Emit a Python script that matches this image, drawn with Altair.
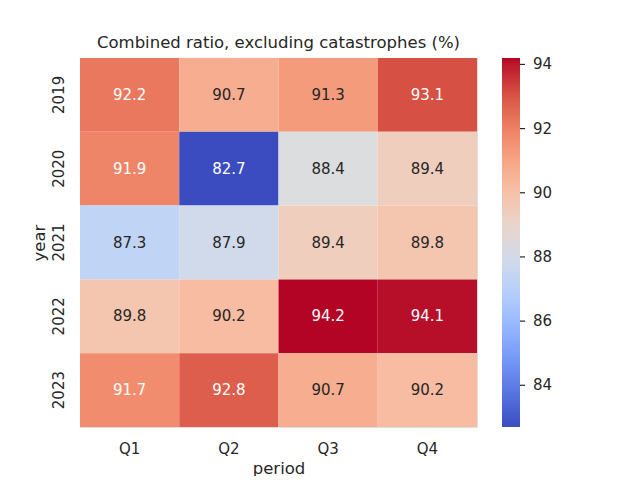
import altair as alt
import pandas as pd

years = ["2019", "2020", "2021", "2022", "2023"]
periods = ["Q1", "Q2", "Q3", "Q4"]
values = [
    [92.2, 90.7, 91.3, 93.1],
    [91.9, 82.7, 88.4, 89.4],
    [87.3, 87.9, 89.4, 89.8],
    [89.8, 90.2, 94.2, 94.1],
    [91.7, 92.8, 90.7, 90.2],
]
cbar_ticks = [84, 86, 88, 90, 92, 94]

# matplotlib coolwarm colormap samples (33 evenly spaced stops)
coolwarm = [
    (59, 76, 192), (68, 90, 204), (77, 104, 215), (87, 117, 225), (98, 130, 234),
    (108, 142, 241), (119, 154, 247), (130, 165, 251), (141, 176, 254), (152, 185, 255),
    (163, 194, 255), (174, 201, 253), (184, 208, 249), (194, 213, 244), (204, 217, 238),
    (213, 219, 230), (221, 221, 221), (229, 216, 209), (236, 211, 197), (241, 204, 184),
    (245, 196, 172), (247, 187, 159), (247, 177, 147), (247, 166, 134), (244, 154, 123),
    (241, 141, 111), (236, 127, 99), (229, 112, 88), (222, 96, 77), (213, 80, 66),
    (203, 62, 56), (192, 40, 47), (180, 4, 38),
]
vmin, vmax = 82.7, 94.2
n = len(coolwarm)
dom = [vmin + i * (vmax - vmin) / (n - 1) for i in range(n)]
rng = ["#%02x%02x%02x" % c for c in coolwarm]


def cmap(v):
    t = (v - vmin) / (vmax - vmin) * (n - 1)
    i = min(int(t), n - 2)
    f = t - i
    a, b = coolwarm[i], coolwarm[i + 1]
    return tuple((a[k] + (b[k] - a[k]) * f) / 255 for k in range(3))


def lum(rgb):
    lin = [c / 12.92 if c <= 0.03928 else ((c + 0.055) / 1.055) ** 2.4 for c in rgb]
    return 0.2126 * lin[0] + 0.7152 * lin[1] + 0.0722 * lin[2]


rows = []
for y, row in zip(years, values):
    for p, v in zip(periods, row):
        rows.append({"year": y, "period": p, "value": v,
                     "tc": "#262626" if lum(cmap(v)) > 0.408 else "#ffffff"})
df = pd.DataFrame(rows)
tick_df = pd.DataFrame({"t": cbar_ticks})

FONT = "DejaVu Sans"
INK = "#262626"

base = alt.Chart(df).encode(
    x=alt.X("period:N", sort=periods, title="period",
            axis=alt.Axis(labelAngle=0, ticks=False, domain=False, labelFontSize=15,
                          titleFontSize=16.5, labelPadding=14, titlePadding=4,
                          labelColor=INK, titleColor=INK,
                          titleFontWeight="normal", labelFont=FONT, titleFont=FONT)),
    y=alt.Y("year:N", sort=years, title="year",
            axis=alt.Axis(labelAngle=270, ticks=False, domain=False, labelFontSize=15,
                          titleFontSize=16.5, labelPadding=22, titlePadding=4,
                          labelColor=INK, titleColor=INK,
                          labelBaseline="middle", labelAlign="center",
                          titleFontWeight="normal", labelFont=FONT, titleFont=FONT)),
)

rect = base.mark_rect().encode(
    color=alt.Color("value:Q",
                    scale=alt.Scale(domain=dom, range=rng, interpolate="rgb"),
                    legend=alt.Legend(orient="none", legendX=422, legendY=0,
                                      direction="vertical", title=None,
                                      gradientLength=369, gradientThickness=18,
                                      gradientStrokeWidth=0,
                                      values=cbar_ticks,
                                      labelFontSize=15, labelColor=INK,
                                      labelFont=FONT, labelOffset=13,
                                      labelOverlap=False))
)

text = base.mark_text(fontSize=15, font=FONT).encode(
    text=alt.Text("value:Q", format=".1f"),
    fill=alt.Fill("tc:N", scale=None, legend=None),
)

heat = alt.layer(rect, text).resolve_scale(color="independent")

cticks = alt.Chart(tick_df).mark_rule(color=INK, strokeWidth=1.2).encode(
    y=alt.Y("t:Q", scale=alt.Scale(domain=[vmin, vmax], nice=False, zero=False), axis=None),
    x=alt.value(440),
    x2=alt.value(445),
)

chart = alt.layer(heat, cticks).resolve_scale(y="independent", color="independent").properties(
    width=397, height=369,
    title=alt.Title("Combined ratio, excluding catastrophes (%)", fontSize=16.5,
                    font=FONT, fontWeight="normal", color=INK, offset=7),
    autosize=alt.AutoSizeParams(type="none"),
    padding={"left": 72, "top": 50, "right": 147, "bottom": 49},
).configure_view(strokeWidth=0).configure(background="white")

chart.save("out.html", embed_options={"renderer": "svg", "actions": False})
